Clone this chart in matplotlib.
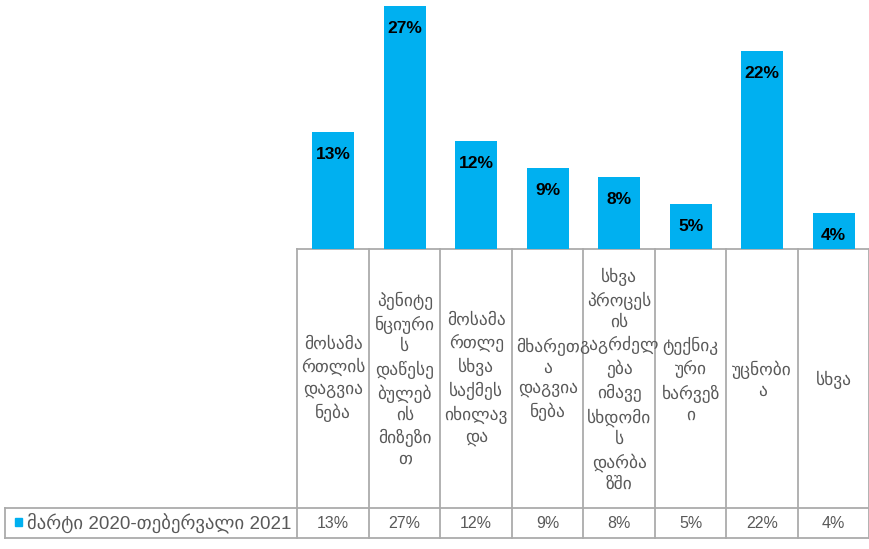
import matplotlib
matplotlib.use("Agg")
import matplotlib.pyplot as plt
from matplotlib.patches import Rectangle

# data
categories = [
    "მოსამა\nრთლის\nდაგვია\nნება",
    "პენიტე\nნციური\nს\nდაწესე\nბულებ\nის\nმიზეზი\nთ",
    "მოსამა\nრთლე\nსხვა\nსაქმეს\nიხილავ\nდა",
    "მხარეთ\nა\nდაგვია\nნება",
    "სხვა\nპროცეს\nის\nგაგრძელ\nება\nიმავე\nსხდომი\nს\nდარბა\nზში",
    "ტექნიკ\nური\nხარვეზ\nი",
    "უცნობი\nა",
    "სხვა",
]
values = [13, 27, 12, 9, 8, 5, 22, 4]
series_name = "მარტი 2020-თებერვალი 2021"

BLUE = "#00B0F0"
GRID = "#ABABAB"
TXT = "#595959"
FAM = ["Liberation Sans", "DejaVu Sans"]

W, H = 870, 549
fig = plt.figure(figsize=(W / 100, H / 100), dpi=100)

# table grid geometry (pixels)
x0, cw = 297.5, 71.5
y_top, y_mid, y_bot = 249, 508, 538
x_left = 5
n = len(values)

# overlay axes in pixel coords for the data table
ov = fig.add_axes([0, 0, 1, 1])
ov.set_xlim(0, W)
ov.set_ylim(H, 0)
ov.axis("off")

x_right = x0 + n * cw
ov.plot([x0, x_right], [y_top, y_top], color=GRID, lw=1.3)
ov.plot([x_left, x_right], [y_mid, y_mid], color=GRID, lw=1.3)
ov.plot([x_left, x_right], [y_bot, y_bot], color=GRID, lw=1.3)
ov.plot([x_left, x_left], [y_mid, y_bot], color=GRID, lw=1.3)
for i in range(n + 1):
    ov.plot([x0 + i * cw] * 2, [y_top, y_bot], color=GRID, lw=1.3)

for i, (cat, v) in enumerate(zip(categories, values)):
    cx = x0 + (i + 0.5) * cw
    ov.text(cx, (y_top + y_mid) / 2 + 1, cat, ha="center", va="center",
            fontsize=12.5, color=TXT, family=FAM, linespacing=1.42)
    ov.text(cx, (y_mid + y_bot) / 2, f"{v}%", ha="center", va="center",
            fontsize=11.5, color=TXT, family=FAM)

# legend key in the table
ov.add_patch(Rectangle((15, 517.5), 7.5, 8, color=BLUE))
ov.text(27, (y_mid + y_bot) / 2, series_name, ha="left", va="center",
        fontsize=13.5, color=TXT, family=FAM)

# bar axes
ax = fig.add_axes([x0 / W, (H - y_top) / H, n * cw / W, y_top / H])
ax.bar(range(n), values, width=0.59, color=BLUE)
ax.set_xlim(-0.5, n - 0.5)
ax.set_ylim(0, y_top / 9)
ax.axis("off")
for i, v in enumerate(values):
    ax.annotate(f"{v}%", (i, v), xytext=(0, -16), textcoords="offset points",
                ha="center", va="center", fontsize=12.5, fontweight="bold",
                color="black", family="Liberation Sans")

fig.savefig("out.png", dpi=100)
